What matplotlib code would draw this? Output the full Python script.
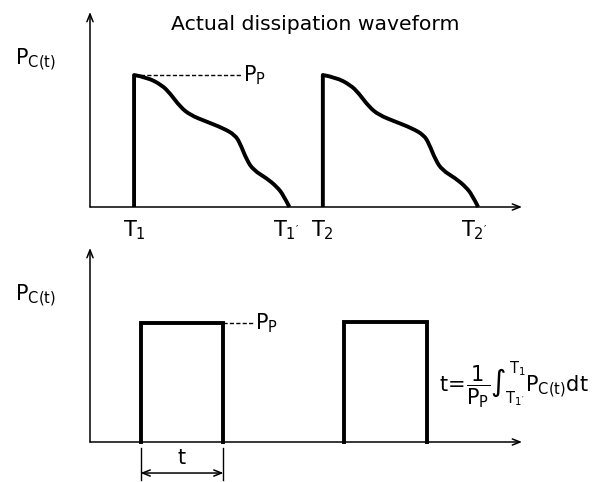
import matplotlib
matplotlib.use("Agg")
import matplotlib.pyplot as plt
from matplotlib.path import Path
from matplotlib.patches import PathPatch

plt.rcParams['font.family'] = ['DejaVu Sans']
plt.rcParams['mathtext.default'] = 'regular'

# ---- data (arbitrary time / power units, peak power = 1) ----
T1 = 1.02
T2 = 5.39
pulse_t = [0.0, 0.294, 0.641, 0.833, 1.065, 1.296, 1.683, 2.067, 2.338,
           2.454, 2.609, 2.762, 3.072, 3.303, 3.456, 3.595]
pulse_p = [1.0, 0.983, 0.924, 0.861, 0.760, 0.697, 0.646, 0.596, 0.545,
           0.482, 0.356, 0.280, 0.217, 0.154, 0.091, 0.0]
PP = 1.0
rect_starts = [1.17, 5.88]
rect_ends = [3.09, 7.79]
rect_heights = [0.90, 0.907]

title = "Actual dissipation waveform"
FS = 15

fig = plt.figure(figsize=(6.05, 4.82), dpi=100)
ax1 = fig.add_axes([90/605, (482-207)/482, 432/605, 195/482])
ax2 = fig.add_axes([90/605, (482-442)/482, 432/605, 194/482])
for ax in (ax1, ax2):
    ax.set_xlim(0, 10)
    ax.set_axis_off()
    arr = dict(arrowstyle='->,head_length=0.55,head_width=0.22', lw=1.1,
               color='black', shrinkA=0, shrinkB=0)
    ax.annotate('', xy=(0, 1), xytext=(0, 0), xycoords='axes fraction',
                arrowprops=arr, annotation_clip=False)
    ax.annotate('', xy=(1, 0), xytext=(0, 0), xycoords='axes fraction',
                arrowprops=arr, annotation_clip=False)
ax1.set_ylim(0, 195/132)
ax2.set_ylim(0, 194/132)

lw = 2.8


def smooth_pulse(ax, T0):
    """Vertical rise then a smooth (quadratic B-spline) decay through the data."""
    pts = [(T0 + t, p) for t, p in zip(pulse_t, pulse_p)]
    verts = [(T0, 0.0), pts[0]]
    codes = [Path.MOVETO, Path.LINETO]
    for i in range(1, len(pts) - 1):
        mid = ((pts[i][0] + pts[i + 1][0]) / 2, (pts[i][1] + pts[i + 1][1]) / 2)
        if i == len(pts) - 2:
            mid = pts[-1]
        verts += [pts[i], mid]
        codes += [Path.CURVE3, Path.CURVE3]
    ax.add_patch(PathPatch(Path(verts, codes), fill=False, lw=lw,
                           edgecolor='black', joinstyle='round',
                           capstyle='butt', clip_on=False))


# ---- top: actual waveform ----
for T0 in (T1, T2):
    smooth_pulse(ax1, T0)

T1e = T1 + pulse_t[-1]
T2e = T2 + pulse_t[-1]
ax1.plot([T1, 3.52], [PP, PP], color='black', lw=1.0, linestyle=(0, (3, 1.6)))
ax1.text(3.55, PP, r'$P_P$', fontsize=FS, ha='left', va='center')
ax1.text(5.22, 1.38, title, fontsize=14.7, ha='center', va='center')
ax1.text(-1.74, 1.076, r'$P_{C(t)}$', fontsize=FS, ha='left', va='baseline',
         clip_on=False)
for x, lab in [(T1, r'$T_1$'), (T1e - 0.08, r"$T_{1'}$"), (T2, r'$T_2$'),
               (T2e - 0.08, r"$T_{2'}$")]:
    ax1.text(x, -0.083, lab, fontsize=FS, ha='center', va='top')

# ---- bottom: equivalent rectangular pulses ----
for x0, x1, h in zip(rect_starts, rect_ends, rect_heights):
    ax2.plot([x0, x0, x1, x1], [0, h, h, 0], color='black', lw=lw,
             solid_joinstyle='miter', clip_on=False)
ax2.plot([rect_ends[0], 3.80], [rect_heights[0]] * 2, color='black', lw=1.0,
         linestyle=(0, (3, 1.6)))
ax2.text(3.82, rect_heights[0], r'$P_P$', fontsize=FS, ha='left', va='center')
ax2.text(-1.74, 1.068, r'$P_{C(t)}$', fontsize=FS, ha='left', va='baseline',
         clip_on=False)
ax2.text(8.08, 0.43, r"$t\!=\!\dfrac{1}{P_P}\int_{T_{1'}}^{T_1}P_{C(t)}dt$",
         fontsize=FS, ha='left', va='center')

# dimension for t
for x in (rect_starts[0], rect_ends[0]):
    ax2.plot([x, x], [-0.045, -0.288], color='black', lw=1.0, clip_on=False)
ax2.annotate('', xy=(rect_starts[0], -0.235), xytext=(rect_ends[0], -0.235),
             arrowprops=dict(arrowstyle='<->,head_length=0.55,head_width=0.22',
                             lw=1.1, color='black', shrinkA=0, shrinkB=0),
             annotation_clip=False)
ax2.text((rect_starts[0] + rect_ends[0]) / 2, -0.12, r'$t$', fontsize=FS,
         ha='center', va='center')

fig.savefig('out.png', dpi=100)
